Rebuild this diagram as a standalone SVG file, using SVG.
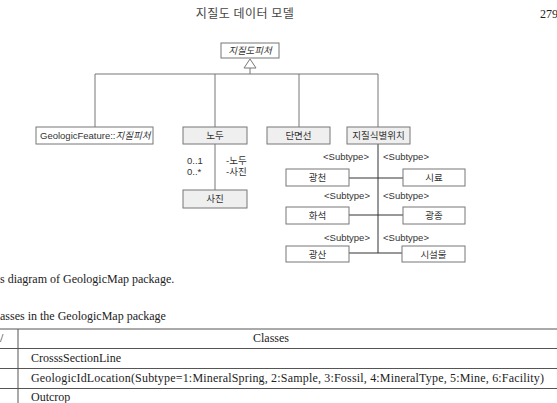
<svg xmlns="http://www.w3.org/2000/svg" width="557" height="403" viewBox="0 0 557 403">
<style>
.hdr{font-family:"Noto Sans CJK KR","Liberation Serif",serif;font-size:12px;fill:#444}
.serif{font-family:"Liberation Serif","Noto Sans CJK KR",serif;font-size:12px;fill:#222}
.lbl{font-family:"Liberation Sans","Noto Sans CJK KR",sans-serif;font-size:9.5px;fill:#333}
.box{stroke:#777;stroke-width:1;fill:#fff}
.gbox{stroke:#777;stroke-width:1;fill:#efefef}
.conn{stroke:#777;stroke-width:1;fill:none}
.tl{stroke:#555;stroke-width:1;fill:none}
</style>
<rect width="557" height="403" fill="#fff"/>
<text class="hdr" x="245" y="18" text-anchor="middle" letter-spacing="0.5">지질도 데이터 모델</text>
<text class="serif" x="540" y="18">279</text>

<g id="connectors">
  <polygon points="250,59 244,68 256,68" fill="#fff" stroke="#777"/>
  <path class="conn" d="M250,68 V74 M95,74 H378 M95,74 V127 M215,74 V127 M299,74 V127 M378,74 V127"/>
  <path class="conn" d="M215,144 V190"/>
  <path d="M378,144 V253 M349,178 H403 M349,215 H403 M349,253 H402" stroke="#333" stroke-width="1" fill="none"/>
</g>

<g id="n-top"><rect class="box" x="221" y="43" width="58" height="15"/><text class="lbl" x="250" y="54" text-anchor="middle" font-style="italic">지질도피처</text></g>
<g id="n-gf"><rect class="box" x="36" y="127" width="117" height="17"/><text class="lbl" x="40" y="139">GeologicFeature::<tspan font-style="italic">지질피처</tspan></text></g>
<g id="n-nodu"><rect class="gbox" x="183" y="127" width="64" height="17"/><text class="lbl" x="215" y="139" text-anchor="middle">노두</text></g>
<g id="n-photo"><rect class="gbox" x="183" y="190" width="64" height="18"/><text class="lbl" x="215" y="202" text-anchor="middle">사진</text></g>
<g id="n-assoc">
  <text class="lbl" x="187" y="164">0..1</text>
  <text class="lbl" x="187" y="175">0..*</text>
  <text class="lbl" x="226" y="164">-노두</text>
  <text class="lbl" x="226" y="175">-사진</text>
</g>
<g id="n-section"><rect class="gbox" x="267" y="127" width="63" height="17"/><text class="lbl" x="298.5" y="139" text-anchor="middle">단면선</text></g>
<g id="n-loc"><rect class="gbox" x="347" y="127" width="63" height="17"/><text class="lbl" x="378.5" y="139" text-anchor="middle">지질식별위치</text></g>

<g id="subtype-labels">
  <text class="lbl" x="323" y="160">&lt;Subtype&gt;</text><text class="lbl" x="383" y="160">&lt;Subtype&gt;</text>
  <text class="lbl" x="324" y="199">&lt;Subtype&gt;</text><text class="lbl" x="383" y="199">&lt;Subtype&gt;</text>
  <text class="lbl" x="324" y="241">&lt;Subtype&gt;</text><text class="lbl" x="383" y="241">&lt;Subtype&gt;</text>
</g>
<g id="n-spring"><rect class="box" x="286" y="169" width="63" height="17"/><text class="lbl" x="317.5" y="181" text-anchor="middle">광천</text></g>
<g id="n-sample"><rect class="box" x="403" y="169" width="62" height="17"/><text class="lbl" x="434" y="181" text-anchor="middle">시료</text></g>
<g id="n-fossil"><rect class="box" x="286" y="207" width="63" height="17"/><text class="lbl" x="317.5" y="219" text-anchor="middle">화석</text></g>
<g id="n-mineral"><rect class="box" x="403" y="207" width="62" height="17"/><text class="lbl" x="434" y="219" text-anchor="middle">광종</text></g>
<g id="n-mine"><rect class="box" x="286" y="246" width="63" height="16"/><text class="lbl" x="317.5" y="258" text-anchor="middle">광산</text></g>
<g id="n-facility"><rect class="box" x="402" y="246" width="63" height="16"/><text class="lbl" x="433.5" y="258" text-anchor="middle">시설물</text></g>

<text class="serif" x="0" y="283">s diagram of GeologicMap package.</text>
<text class="serif" x="0" y="320">asses in the GeologicMap package</text>

<g id="table">
  <path class="tl" d="M0,329 H557" stroke-width="1.6"/>
  <path class="tl" d="M0,348.5 H557 M0,368.5 H557 M0,388.5 H557 M18,329 V403"/>
  <text class="serif" x="0" y="342">/</text>
  <text class="serif" x="271" y="342" text-anchor="middle">Classes</text>
  <text class="serif" x="31" y="362">CrosssSectionLine</text>
  <text class="serif" x="31" y="382" textLength="513" lengthAdjust="spacing">GeologicIdLocation(Subtype=1:MineralSpring,  2:Sample,  3:Fossil,  4:MineralType,  5:Mine,  6:Facility)</text>
  <text class="serif" x="31" y="401">Outcrop</text>
</g>
</svg>
